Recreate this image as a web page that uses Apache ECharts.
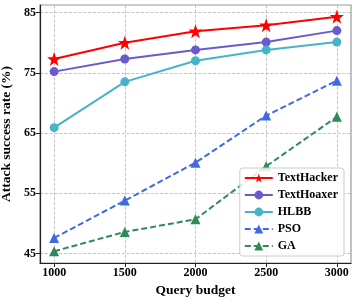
<!DOCTYPE html>
<html><head><meta charset="utf-8">
<script src="https://cdn.jsdelivr.net/npm/echarts@6/dist/echarts.min.js"></script>
<style>html,body{margin:0;padding:0;background:#fff}#c{width:357px;height:301px}</style>
</head><body><div id="c"></div>
<script>
const budgets = [1000, 1500, 2000, 2500, 3000];
const yTicks = [45, 55, 65, 75, 85];
const textHacker = [77.3, 80.0, 81.9, 82.9, 84.3];
const textHoaxer = [75.2, 77.3, 78.8, 80.1, 82.0];
const hlbb = [65.9, 73.5, 77.0, 78.8, 80.1];
const pso = [47.6, 53.8, 60.1, 67.9, 73.7];
const ga = [45.4, 48.6, 50.7, 59.5, 67.7];

const F = '"Liberation Serif","Times New Roman",serif';
const pairs = arr => budgets.map((b, i) => [b, arr[i]]);
const mk = (name, data, color, symbol, size, dashed) => ({
  name, type: 'line', data: pairs(data), symbol, symbolSize: size,
  itemStyle: {color}, lineStyle: {color, width: 2, type: dashed ? [6, 3] : 'solid'},
  emphasis: {disabled: true}
});
const grid = {type: 'dashed', color: '#b8b8b8', width: 0.8};
const chart = echarts.init(document.getElementById('c'));
chart.setOption({
  animation: false,
  grid: {left: 40, right: 6, top: 5, bottom: 38, containLabel: false, outerBoundsMode: 'none',
         show: true, borderColor: '#999', borderWidth: 1.2},
  xAxis: {
    type: 'value', min: 900, max: 3100,
    name: 'Query budget', nameLocation: 'middle', nameGap: 19,
    nameTextStyle: {fontFamily: F, fontWeight: 'bold', fontSize: 13.5, color: '#000'},
    axisLine: {lineStyle: {color: '#222', width: 1.2}},
    axisTick: {show: true, length: 4, customValues: budgets, lineStyle: {color: '#222'}},
    axisLabel: {customValues: budgets, formatter: v => String(v), fontFamily: F, fontWeight: 'bold', fontSize: 12, color: '#000', margin: 4},
    splitLine: {show: true, lineStyle: grid}
  },
  yAxis: {
    type: 'value', min: 43.45, max: 86.25,
    name: 'Attack success rate (%)', nameLocation: 'middle', nameGap: 20,
    nameTextStyle: {fontFamily: F, fontWeight: 'bold', fontSize: 13.5, color: '#000'},
    axisLine: {show: true, lineStyle: {color: '#222', width: 1.2}},
    axisTick: {show: true, length: 4, customValues: yTicks, lineStyle: {color: '#222'}},
    axisLabel: {customValues: yTicks, formatter: v => String(v), fontFamily: F, fontWeight: 'bold', fontSize: 12, color: '#000', margin: 4},
    splitLine: {show: true, lineStyle: grid}
  },
  legend: {
    right: 13, bottom: 45, orient: 'vertical', itemGap: 5, itemWidth: 28, itemHeight: 11,
    padding: [4, 6, 4, 4], borderColor: '#ccc', borderWidth: 1, borderRadius: 3,
    backgroundColor: 'rgba(255,255,255,0.85)',
    textStyle: {fontFamily: F, fontWeight: 'bold', fontSize: 12, color: '#000'}
  },
  series: [
    mk('TextHacker', textHacker, '#ff0000', 'path://M0,-10L2.35,-3.24L9.51,-3.09L3.8,1.24L5.88,8.09L0,4L-5.88,8.09L-3.8,1.24L-9.51,-3.09L-2.35,-3.24Z', 14, false),
    mk('TextHoaxer', textHoaxer, '#6a5acd', 'circle', 9, false),
    mk('HLBB', hlbb, '#46b4c8', 'circle', 9, false),
    mk('PSO', pso, '#4169e1', 'triangle', 10, true),
    mk('GA', ga, '#2e8b57', 'triangle', 10, true)
  ]
});
</script></body></html>
